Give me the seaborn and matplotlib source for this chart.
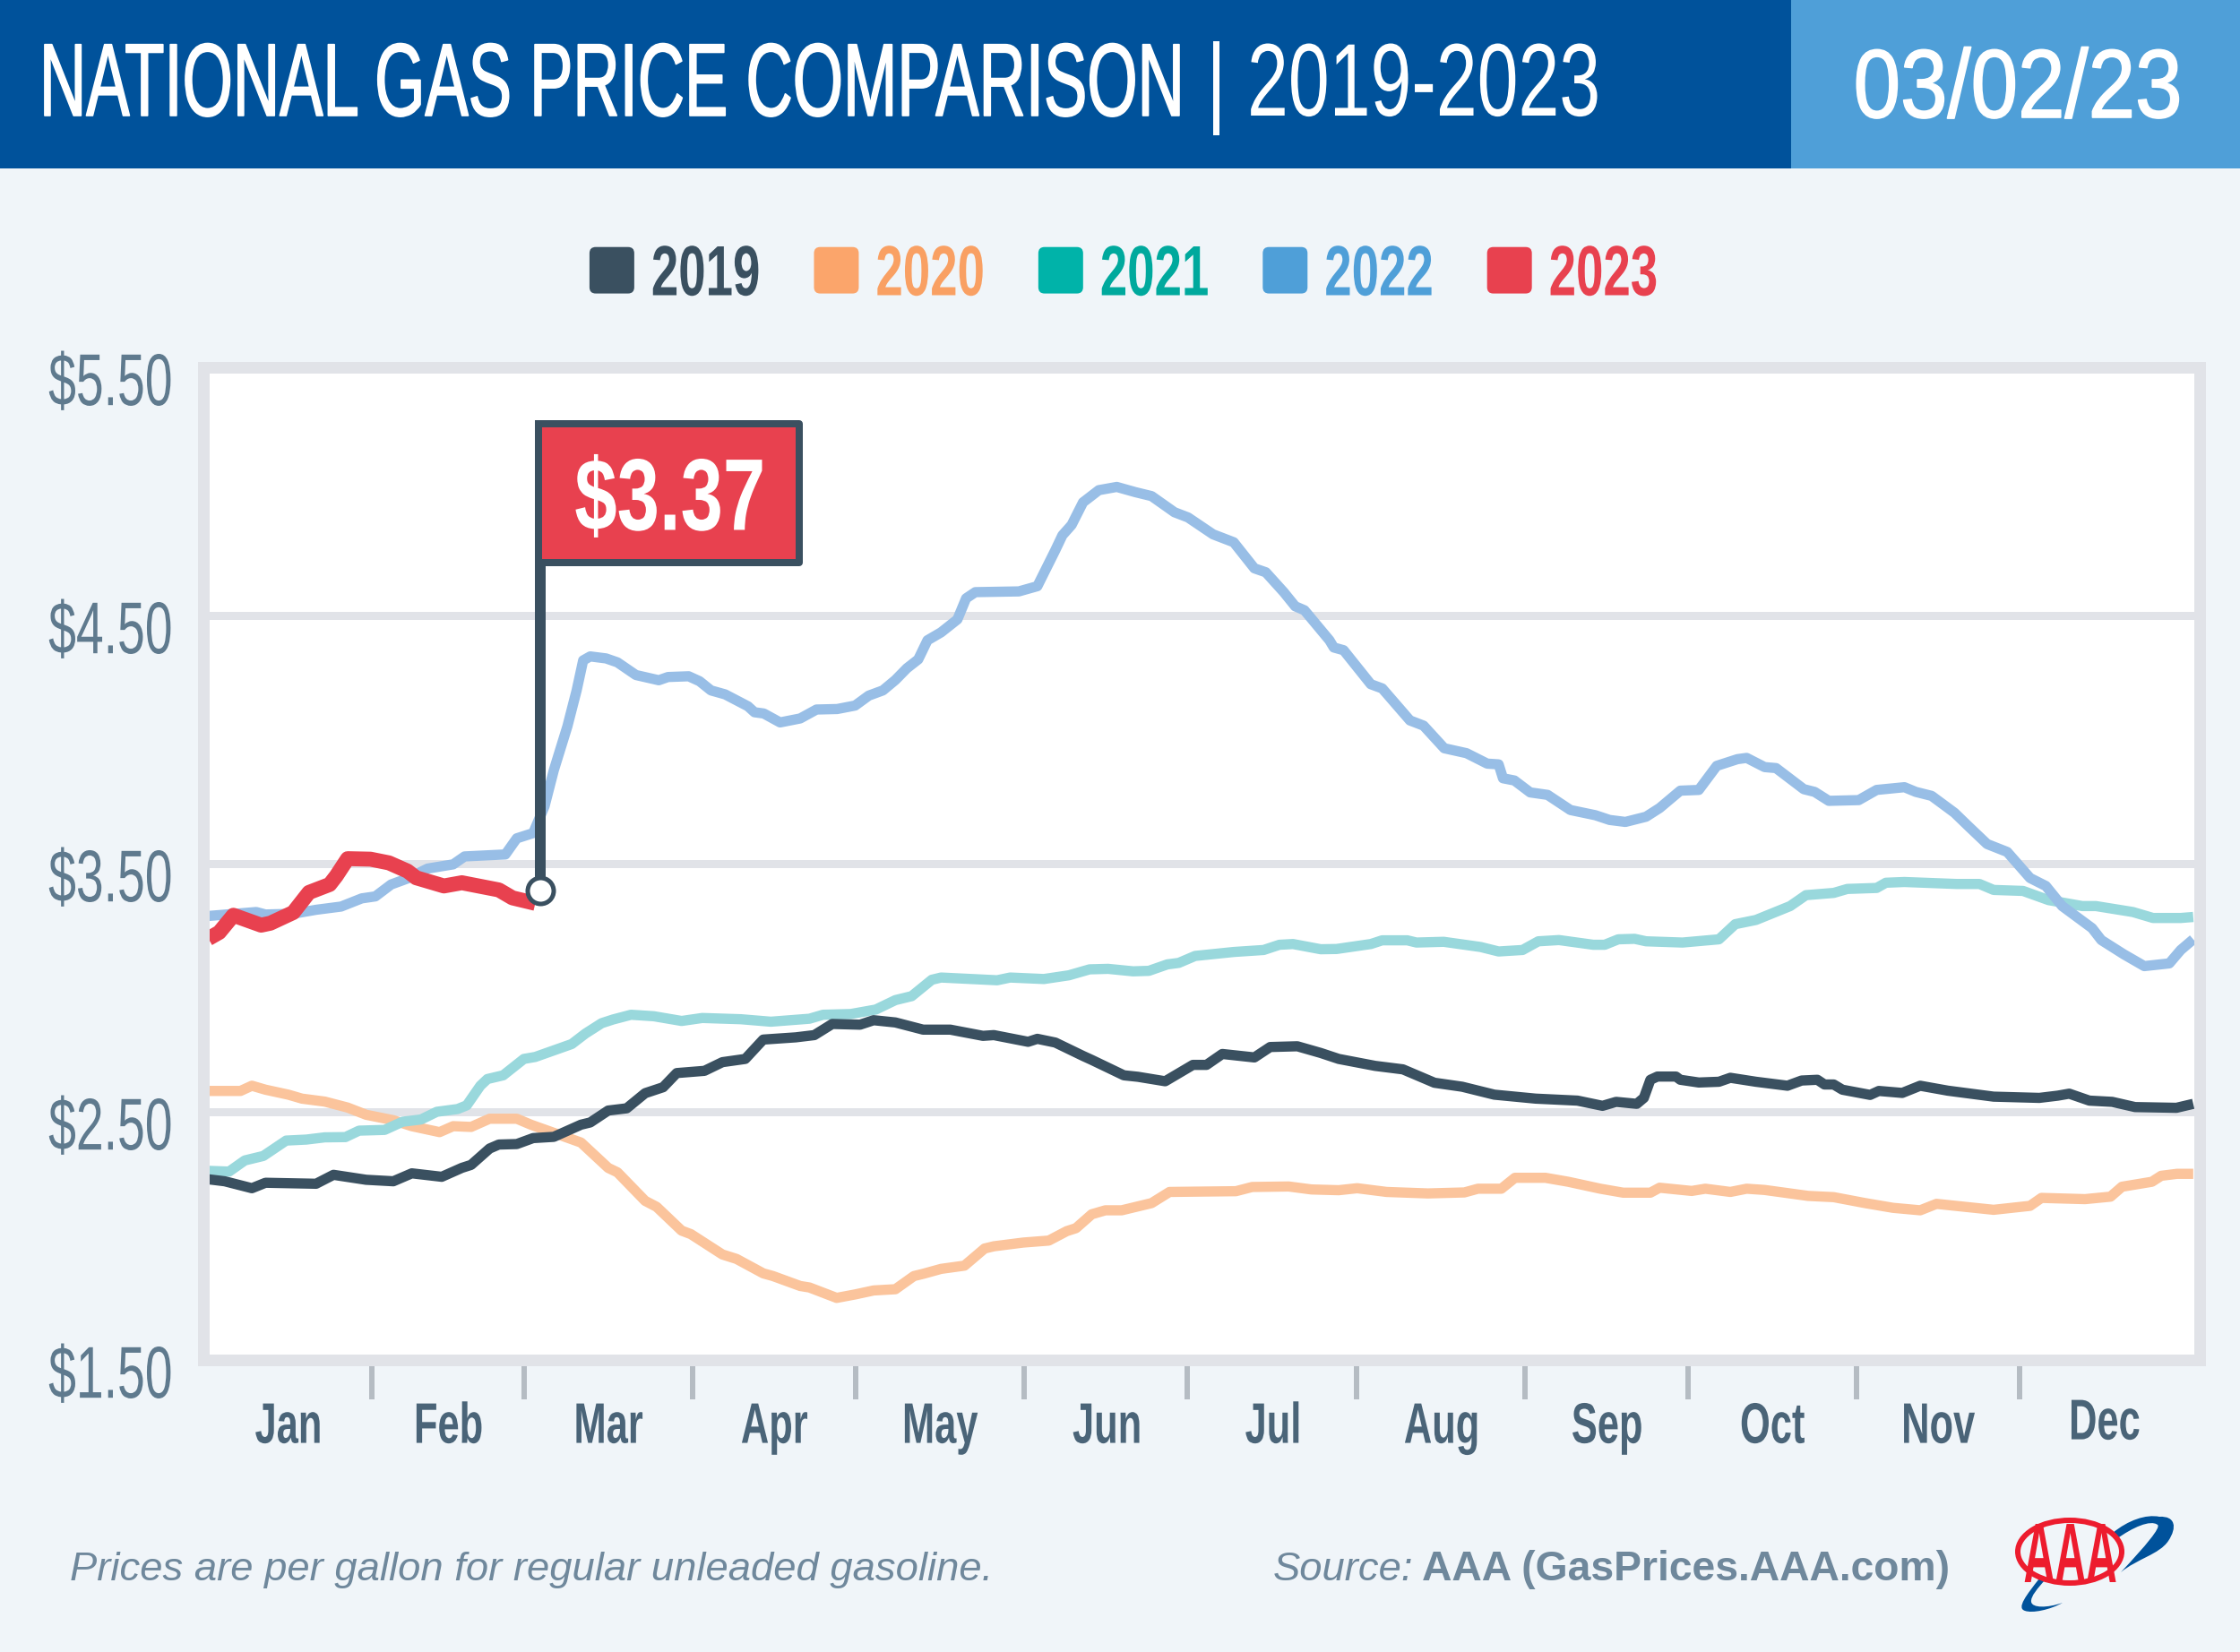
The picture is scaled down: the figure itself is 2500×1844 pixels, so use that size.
import matplotlib
matplotlib.use("Agg")
import matplotlib.pyplot as plt
import seaborn as sns
from matplotlib.colors import to_rgb
from matplotlib.legend_handler import HandlerPatch
from matplotlib.patches import Ellipse, FancyBboxPatch, Patch, PathPatch, Rectangle
from matplotlib.path import Path
from matplotlib.text import Text, TextPath
from matplotlib.transforms import Affine2D, Bbox, IdentityTransform

days_2019 = [1,4,9,11.5,20.8,24,30,35,38.4,43.9,47.6,49.3,52.7,54.4,57.7,60.7,64.5,69.5,71.2,74.5,77.9,81.3,84.6,87.1,92.2,95.5,99.7,103,109,112.4,115.7,120.8,123.3,127.3,132.4,137.4,143.4,145.4,151.7,153.4,156.7,161.8,163.4,169.3,171.9,176.9,182,184.5,187.4,193.3,196.2,201.2,205.5,208.8,215.5,220.6,226.4,231.5,237.4,245,252.7,257.3,259.8,263.6,264.9,266.1,267.4,270.8,271.6,275,278.7,280.8,285.5,291.3,293.9,296.8,298.1,299.8,301.4,306.5,308.1,312.4,315.7,320.8,329.2,337.6,341,343.1,346.8,351,355.2,362.8,365.9]
price_2019 = [2.228,2.22,2.192,2.214,2.21,2.246,2.226,2.22,2.252,2.238,2.274,2.286,2.352,2.368,2.37,2.394,2.399,2.448,2.457,2.505,2.514,2.575,2.599,2.656,2.665,2.70,2.713,2.791,2.80,2.809,2.854,2.851,2.869,2.86,2.831,2.831,2.806,2.809,2.782,2.794,2.779,2.725,2.709,2.647,2.641,2.623,2.689,2.689,2.733,2.719,2.761,2.764,2.737,2.713,2.685,2.671,2.617,2.601,2.569,2.553,2.545,2.524,2.54,2.532,2.556,2.629,2.642,2.642,2.629,2.618,2.621,2.637,2.621,2.605,2.626,2.629,2.61,2.61,2.589,2.568,2.584,2.576,2.605,2.585,2.561,2.556,2.565,2.573,2.545,2.54,2.519,2.516,2.532]

days_2020 = [1,6.9,9,11.5,15.7,18.2,22.4,26.6,30,35,38.4,43.5,46,49.3,52.7,57.7,60.3,69.5,74.5,76.2,81.3,83.4,88,89.7,95.5,98.1,103,104.8,109.8,111.5,116.5,119.9,123.3,127.3,130.7,132.4,135.7,140,143.7,145.4,150.8,155.5,158.8,160.5,163.4,165.9,168.9,174.4,177.7,189.9,192.9,199.6,203.8,208.8,212.2,217.6,225.2,231.9,234.4,238.7,241.2,246.8,251,256.9,261.1,266.1,267.8,273.7,276.2,280.8,283.8,287.1,295.1,299.8,305.6,310.7,315.7,318.7,329.2,335.9,338,346,350.7,352.8,358.3,360,362.9,365.9]
price_2020 = [2.584,2.584,2.605,2.589,2.569,2.553,2.541,2.517,2.488,2.466,2.442,2.418,2.442,2.439,2.472,2.472,2.448,2.376,2.274,2.256,2.141,2.117,2.021,2.007,1.925,1.907,1.849,1.838,1.798,1.792,1.75,1.764,1.78,1.785,1.838,1.847,1.867,1.88,1.949,1.958,1.973,1.981,2.019,2.031,2.087,2.103,2.103,2.132,2.177,2.18,2.197,2.199,2.187,2.184,2.192,2.177,2.171,2.175,2.19,2.19,2.234,2.234,2.218,2.19,2.174,2.174,2.194,2.181,2.19,2.177,2.19,2.185,2.161,2.156,2.132,2.113,2.103,2.129,2.105,2.121,2.153,2.148,2.158,2.198,2.218,2.242,2.25,2.25]

days_2021 = [1,4.8,7.7,11.1,15.3,19,22.4,26.2,28.7,33.4,36.7,40.1,43,46.8,48.5,51,52.3,55.2,59,61.1,67.8,70.3,73.3,75.4,78.7,82.9,88,91.8,98.9,104.4,111.5,114,119.1,123.7,127.3,130.3,134,135.7,146,148.4,154.6,159.2,163,166.4,171,173.9,177.3,179.4,182.4,189.5,195,197.9,200.4,205.5,208.4,214.7,216.8,221.4,223.1,228.1,234.9,238.2,242.6,245.5,249.3,255.6,257.7,260.2,263.2,265.3,272,278.7,281.7,285.5,291.8,294.7,299.8,302.3,307.7,309.4,312.8,322.4,326.6,329.2,334.6,339.3,345.5,348,354.8,358.5,363.6,365.9]
price_2021 = [2.262,2.259,2.304,2.322,2.384,2.388,2.397,2.398,2.424,2.427,2.46,2.469,2.5,2.511,2.526,2.605,2.632,2.647,2.713,2.721,2.773,2.815,2.857,2.872,2.891,2.885,2.866,2.878,2.873,2.863,2.875,2.891,2.894,2.912,2.95,2.966,3.032,3.041,3.03,3.041,3.035,3.05,3.074,3.076,3.066,3.068,3.094,3.1,3.128,3.144,3.152,3.173,3.176,3.155,3.156,3.176,3.191,3.191,3.182,3.185,3.164,3.146,3.152,3.187,3.192,3.173,3.173,3.195,3.197,3.187,3.182,3.195,3.256,3.273,3.329,3.373,3.382,3.398,3.402,3.423,3.426,3.418,3.418,3.394,3.39,3.353,3.329,3.329,3.305,3.281,3.281,3.285]

days_2022 = [1,9.8,11.5,16.6,20.8,25.4,29.2,31.7,34.6,37.6,41.3,46,48.1,55.6,57.7,60.7,62.8,64.5,67,68.7,69.9,71.2,74.1,76.2,79.6,83.8,85.5,89.3,91.3,93.4,96,100.2,101.4,103.1,106.1,109.8,112.8,116.6,119.9,122.4,125,127.3,129.4,131.5,133.2,135.7,138.7,140.3,142,150,153.4,156.7,158,159.7,161.8,164.7,168,171.4,174.4,178.6,181.1,185.7,189.5,193.3,195.4,198.7,200.8,202.5,207.1,207.9,209.7,214.7,216.8,221.9,224.4,228.2,232.3,236.1,238.2,239,241.1,244,247.2,251.4,256,258.6,261.5,265.3,267.8,271.6,275,278.3,282.1,283.8,287.1,289.2,294.3,296.3,298.9,304.4,307.7,312.8,314.9,317.8,322,324.5,328,331.7,335.9,338.8,341.8,347.3,349,353.1,356.9,361.5,363.6,365.9]
price_2022 = [3.289,3.305,3.295,3.298,3.314,3.327,3.36,3.368,3.416,3.44,3.48,3.497,3.529,3.537,3.602,3.623,3.731,3.876,4.053,4.198,4.319,4.335,4.327,4.311,4.26,4.239,4.252,4.255,4.235,4.198,4.182,4.134,4.11,4.105,4.069,4.085,4.121,4.123,4.137,4.177,4.198,4.24,4.287,4.323,4.4,4.432,4.484,4.569,4.594,4.597,4.618,4.763,4.823,4.865,4.956,5.005,5.018,4.997,4.981,4.916,4.895,4.827,4.795,4.69,4.674,4.594,4.537,4.521,4.4,4.371,4.36,4.223,4.206,4.077,4.056,3.965,3.945,3.903,3.9,3.844,3.835,3.787,3.777,3.716,3.695,3.676,3.668,3.689,3.724,3.794,3.797,3.894,3.921,3.926,3.889,3.885,3.8,3.789,3.753,3.756,3.797,3.808,3.789,3.773,3.705,3.652,3.579,3.547,3.442,3.41,3.329,3.24,3.192,3.135,3.087,3.098,3.152,3.195]

days_2023 = [1,3,5.6,10.7,12.4,16.6,19.5,23.3,24.5,26.6,30.8,34.2,37.6,39.2,44.3,47.6,54.4,56.9,61.1]
price_2023 = [3.198,3.223,3.292,3.252,3.26,3.303,3.384,3.416,3.45,3.52,3.518,3.503,3.47,3.443,3.41,3.423,3.394,3.362,3.34]

flag_label = "$3.37"
flag_day = 62
flag_marker_price = 3.39

years = ["2019", "2020", "2021", "2022", "2023"]
month_names = ["Jan","Feb","Mar","Apr","May","Jun","Jul","Aug","Sep","Oct","Nov","Dec"]
month_edges = [31,59,90,120,151,181,212,243,273,304,334]
month_centers = [15.5,45,74.5,105,135.5,166,196.5,227.5,258,288.5,319,349.5]
price_ticks = [1.5,2.5,3.5,4.5,5.5]
price_labels = ["$1.50","$2.50","$3.50","$4.50","$5.50"]

W, H = 2500, 1844
DARK = "#3A5060"
BG = "#F0F5F9"
GRID = "#E1E3E8"
NAVY = "#00529B"
SKY = "#4F9FD8"
RED = "#E8414F"
SLATE = "#4A6478"
YLAB = "#5F7A8E"
FOOT = "#6F889C"
swatch = {"2019": DARK, "2020": "#FBA56B", "2021": "#00B3A9", "2022": SKY, "2023": RED}
textcol = {"2019": DARK, "2020": "#F9A063", "2021": "#00A99D", "2022": SKY, "2023": RED}
linecol = {"2019": DARK, "2020": "#FBC49C", "2021": "#99D8DC", "2022": "#98BEE6", "2023": RED}

FONT = "Liberation Sans"


class Squeezed(Text):
    """A text artist drawn narrower than its font, as the reference's condensed face."""
    sx = 1.0
    dy = 0.0
    stroke = 0.0

    def _get_layout(self, renderer):
        bbox, info, descent = super()._get_layout(renderer)
        return (Bbox.from_bounds(bbox.x0 * self.sx, bbox.y0, bbox.width * self.sx, bbox.height), info, descent)

    def _geom(self, dpi):
        fp = self.get_fontproperties()
        size = fp.get_size_in_points()
        tp = TextPath((0, 0), self.get_text(), size=size, prop=fp)
        cap = TextPath((0, 0), "H", size=size, prop=fp).get_extents().height
        k = dpi / 72
        w = tp.get_extents().x1 * k * self.sx
        c = cap * k
        x, y = self.get_transform().transform(self.get_unitless_position())
        ha = self.get_ha()
        va = self.get_va()
        x0 = x - {"left": 0, "center": w / 2, "right": w}[ha]
        if va == "top":
            y0 = y - c
        elif va in ("center", "center_baseline"):
            y0 = y - c / 2
        else:
            y0 = y
        return tp, k, x0, y0 + self.dy, w, c

    def draw(self, renderer):
        if not self.get_visible() or not self.get_text():
            return
        tp, k, x0, y0, w, c = self._geom(renderer.dpi)
        gc = renderer.new_gc()
        rgb = to_rgb(self.get_color())
        gc.set_foreground(rgb)
        gc.set_linewidth(self.stroke)
        tr = Affine2D().scale(k * self.sx, k).translate(x0, y0)
        renderer.draw_path(gc, tp, tr, rgbFace=rgb)
        gc.restore()
        self.stale = False

    def get_window_extent(self, renderer=None, dpi=None):
        d = dpi or self.get_figure(root=True).dpi
        if not self.get_text():
            return Bbox.from_bounds(0, 0, 0, 0)
        tp, k, x0, y0, w, c = self._geom(d)
        return Bbox.from_bounds(x0, y0, w, c)


def squeeze(t, sx, dy=0.0, stroke=0.0):
    t.__class__ = Squeezed
    t.sx, t.dy, t.stroke = sx, dy, stroke
    return t


sns.set_theme(style="white")
plt.rcParams["font.family"] = [FONT, "DejaVu Sans"]
plt.rcParams["text.parse_math"] = False

fig = plt.figure(figsize=(W / 100, H / 100), dpi=100, facecolor=BG)


def fx(x):
    return x / W


def fy(y):
    return 1 - y / H


def ptx(px):
    return px * 0.72


# header
fig.add_artist(Rectangle((0, fy(188)), fx(1999), 188 / H, transform=fig.transFigure, fc=NAVY, ec="none", zorder=1))
fig.add_artist(Rectangle((fx(1999), fy(188)), 1 - fx(1999), 188 / H, transform=fig.transFigure, fc=SKY, ec="none", zorder=1))
squeeze(fig.text(fx(44), fy(129), "NATIONAL GAS PRICE COMPARISON", color="white", fontsize=83, zorder=2, va="baseline"), 0.628, stroke=1.2)
squeeze(fig.text(fx(1392), fy(129), "2019-2023", color="white", fontsize=83, zorder=2, va="baseline"), 0.715)
squeeze(fig.text(fx(1346), fy(127), "|", color="white", fontsize=80, zorder=2, va="baseline"), 0.80)
squeeze(fig.text(fx(2250), fy(131), "03/02/23", color="white", fontsize=78, zorder=2, ha="center", va="baseline"), 0.87, stroke=1.2)

# chart
ax = fig.add_axes([fx(226.5), fy(1518), 2228 / W, 1108 / H], facecolor="white")
draw_order = [("2020", days_2020, price_2020, 8.2, 2.1),
              ("2021", days_2021, price_2021, 8.2, 2.2),
              ("2022", days_2022, price_2022, 8.2, 2.3),
              ("2019", days_2019, price_2019, 8.2, 2.35),
              ("2023", days_2023, price_2023, 12.0, 2.4)]
for name, d, p, lw, z in draw_order:
    sns.lineplot(x=d, y=p, ax=ax, color=linecol[name], linewidth=lw, estimator=None, sort=False,
                 zorder=z, solid_joinstyle="round", solid_capstyle="butt", legend=False)

ax.set_xlim(0, 367)
ax.set_ylim(1.5, 5.5)
ax.set_xlabel("")
ax.set_ylabel("")
ax.grid(False)
ax.set_axisbelow(True)
ax.yaxis.grid(True, color=GRID, linewidth=ptx(9), zorder=1)
for s in ax.spines.values():
    s.set_color(GRID)
    s.set_linewidth(ptx(13))
    s.set_capstyle("projecting")

ax.set_yticks(price_ticks, price_labels)
ax.tick_params(axis="y", length=0, pad=26, labelsize=59, labelcolor=YLAB)
for t in ax.get_yticklabels():
    squeeze(t, 0.675, dy=-14)

ax.set_xticks(month_edges, [""] * len(month_edges))
ax.set_xticks(month_centers, month_names, minor=True)
ax.tick_params(axis="x", which="major", length=ptx(44), width=ptx(6), color="#B5BCC3", direction="out", bottom=True)
ax.tick_params(axis="x", which="minor", length=0, pad=35, labelsize=46, labelcolor=SLATE, bottom=True)
for t in ax.get_xticklabels(minor=True):
    t.set_fontweight("bold")
    squeeze(t, 0.68, dy=4 if t.get_text() == "Dec" else 0)

# legend
handles = [Patch(facecolor=swatch[y], edgecolor="none", label=y) for y in years]


def rounded(legend, orig_handle, xdescent, ydescent, width, height, fontsize):
    r = 5
    return FancyBboxPatch((-xdescent + r, -ydescent + r), width - 2 * r, height - 2 * r,
                          boxstyle=f"round,pad={r},rounding_size={r}", mutation_aspect=1)


EM = 79.2
leg = ax.legend(handles=handles, loc="center", bbox_to_anchor=(fx(1254), fy(309)), bbox_transform=fig.transFigure,
                ncol=5, frameon=False, labelcolor=[textcol[y] for y in years],
                handlelength=50 / EM, handleheight=50 / EM, handletextpad=19 / EM, columnspacing=60 / EM,
                borderpad=0, borderaxespad=0, prop={"family": FONT, "weight": "bold", "size": 57},
                handler_map={Patch: HandlerPatch(patch_func=rounded)})
for t in leg.get_texts():
    squeeze(t, 0.69)

# flag anchored on the latest 2023 point
mx, my = ax.transData.transform((flag_day, flag_marker_price))
ident = IdentityTransform()
ax.add_patch(Rectangle((mx - 6, my), 12, 529 - 4, transform=ident, fc=DARK, ec="none", zorder=5, clip_on=False))
ax.add_patch(Rectangle((mx - 2, my + 366), 291, 155, transform=ident, fc=RED, ec=DARK, lw=ptx(8), zorder=6,
                       clip_on=False, joinstyle="round"))
ax.plot([flag_day], [flag_marker_price], marker="o", ms=ptx(29), mfc="white", mec=DARK, mew=ptx(5), zorder=7, clip_on=False, ls="none")
squeeze(ax.text(mx + 143, my + 403, flag_label, color="white", fontsize=82, fontweight="bold", ha="center",
                va="baseline", transform=ident, zorder=8, clip_on=False), 0.747)

# footer
fig.text(fx(78), fy(1764), "Prices are per gallon for regular unleaded gasoline.", color=FOOT, fontsize=32.7,
         family=FONT, style="italic", va="baseline")
fig.text(fx(1421), fy(1764), "Source:", color=FOOT, fontsize=32.7, family=FONT, style="italic", va="baseline")
fig.text(fx(2176), fy(1764), "AAA (GasPrices.AAA.com)", color=FOOT, fontsize=33.3, family=FONT,
         weight="bold", va="baseline", ha="right")


# AAA logo
def logo_path(cmds):
    verts, codes = [], []
    for c, pts in cmds:
        for x, y in pts:
            verts.append((x, H - y))
        codes += [c] * len(pts)
    return Path(verts, codes)


C = Path.CURVE4
swoosh_up = logo_path([(Path.MOVETO, [(2358, 1711)]), (C, [(2375, 1697), (2395, 1690), (2410, 1693)]),
                       (C, [(2428, 1692), (2430, 1705), (2420, 1720)]), (C, [(2410, 1735), (2385, 1740), (2367, 1755)]),
                       (C, [(2395, 1725), (2412, 1705), (2408, 1702)]), (C, [(2400, 1696), (2380, 1705), (2362, 1718)])])
swoosh_low = logo_path([(Path.MOVETO, [(2276, 1762)]), (C, [(2262, 1780), (2250, 1795), (2260, 1798)]),
                        (C, [(2268, 1801), (2288, 1797), (2302, 1789)]), (C, [(2285, 1795), (2268, 1795), (2267, 1788)]),
                        (C, [(2266, 1782), (2275, 1772), (2282, 1764)])])
for pth in (swoosh_up, swoosh_low):
    fig.add_artist(PathPatch(pth, transform=ident, fc=NAVY, ec="none", zorder=3))
fig.add_artist(Ellipse((2310, H - 1732), 116, 70, transform=ident, fc="none", ec="#ED1C2E", lw=ptx(6), zorder=4))
squeeze(fig.text(fx(2310), fy(1766), "AAA", color="#ED1C2E", fontsize=68, fontweight="bold", ha="center",
                 va="baseline", zorder=5, family=FONT), 0.51)

fig.savefig("out.png", dpi=100, facecolor=BG)
